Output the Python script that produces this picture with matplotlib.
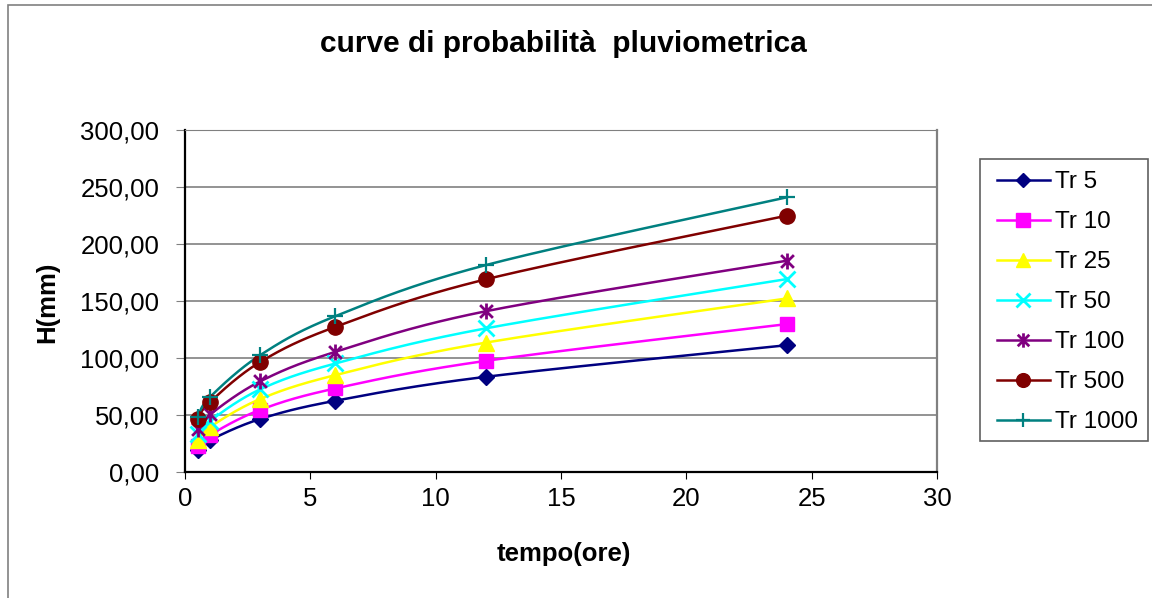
import numpy as np
import matplotlib
matplotlib.use('Agg')
import matplotlib.pyplot as plt
from matplotlib.path import Path
from matplotlib.lines import Line2D
from matplotlib.patches import Rectangle

plt.rcParams['font.family'] = ['Liberation Sans', 'DejaVu Sans']

# durations (hours) and rainfall depth H (mm) for each return period
tempo = [0.5, 1, 3, 6, 12, 24]
tr5 = [19.5, 28.0, 46.5, 62.5, 83.5, 111.2]
tr10 = [22.5, 32.5, 54.5, 73.3, 97.5, 129.7]
tr25 = [28.0, 39.5, 64.0, 85.0, 113.5, 152.2]
tr50 = [33.5, 45.0, 72.5, 95.2, 126.0, 169.2]
tr100 = [38.0, 50.5, 79.5, 105.4, 141.0, 185.3]
tr500 = [46.5, 61.5, 96.5, 127.3, 169.0, 224.8]
tr1000 = [48.5, 65.8, 102.5, 136.7, 181.5, 240.9]
labels = ['Tr 5', 'Tr 10', 'Tr 25', 'Tr 50', 'Tr 100', 'Tr 500', 'Tr 1000']

# asterisk marker: cross plus vertical bar
star = Path([(0, -1), (0, 1), (-0.8, -0.8), (0.8, 0.8), (-0.8, 0.8), (0.8, -0.8)],
            [Path.MOVETO, Path.LINETO, Path.MOVETO, Path.LINETO, Path.MOVETO, Path.LINETO])

styles = [
    dict(color='#000080', marker='D', ms=7.8),
    dict(color='#FF00FF', marker='s', ms=10.5),
    dict(color='#FFFF00', marker='^', ms=11),
    dict(color='#00FFFF', marker='x', ms=11, mew=2),
    dict(color='#800080', marker=star, ms=11.5, mew=2),
    dict(color='#800000', marker='o', ms=11),
    dict(color='#008080', marker='+', ms=11.5, mew=1.6),
]


def smooth(x, y, n=40):
    # bezier smoothing through the points (spreadsheet-style smoothed line)
    pts = np.column_stack([x, y]).astype(float)
    out = []
    t = np.linspace(0, 1, n)[:, None]
    for i in range(len(pts) - 1):
        p0 = pts[i - 1] if i > 0 else pts[i]
        p1, p2 = pts[i], pts[i + 1]
        p3 = pts[i + 2] if i + 2 < len(pts) else p2
        c1 = p1 + (p2 - p0) / 6
        c2 = p2 - (p3 - p1) / 6
        seg = (1 - t) ** 3 * p1 + 3 * (1 - t) ** 2 * t * c1 + 3 * (1 - t) * t ** 2 * c2 + t ** 3 * p2
        out.append(seg if i == 0 else seg[1:])
    s = np.vstack(out)
    return s[:, 0], s[:, 1]


W, H = 1152, 598
fig = plt.figure(figsize=(W / 100, H / 100), dpi=100)
ax = fig.add_axes([185 / W, 1 - 472 / H, 752 / W, 342 / H])

handles = []
for vals, st, lab in zip([tr5, tr10, tr25, tr50, tr100, tr500, tr1000], styles, labels):
    sx, sy = smooth(tempo, vals)
    ax.plot(sx, sy, color=st['color'], lw=1.8, zorder=3)
    ax.plot(tempo, vals, ls='none', marker=st['marker'], ms=st['ms'],
            color=st['color'], mec=st['color'], mew=st.get('mew', 1), zorder=4)
    handles.append(Line2D([], [], color=st['color'], lw=1.8, marker=st['marker'],
                          ms=st['ms'] * 0.9, mew=st.get('mew', 1), label=lab))

ax.set_xlim(0, 30)
ax.set_ylim(0, 300)
ax.set_xticks(range(0, 31, 5))
ax.set_yticks(range(0, 301, 50))
ax.set_yticklabels([f'{v:.2f}'.replace('.', ',') for v in range(0, 301, 50)])
ax.tick_params(axis='both', labelsize=18.5, direction='out')
ax.tick_params(axis='y', length=6.5, pad=12, color='#808080')
ax.tick_params(axis='x', length=5, pad=6, color='black')
ax.grid(axis='y', color='#808080', lw=1.2)
ax.set_axisbelow(True)
ax.spines['left'].set_color('black')
ax.spines['left'].set_linewidth(1.6)
ax.spines['bottom'].set_color('black')
ax.spines['bottom'].set_linewidth(1.6)
ax.spines['top'].set_color('#808080')
ax.spines['right'].set_color('#808080')
ax.spines['right'].set_linewidth(1.6)

fig.text(563 / W, 1 - 52 / H, 'curve di probabilità  pluviometrica', ha='center',
         va='baseline', fontsize=21.5, fontweight='bold')
fig.text(564 / W, 1 - 561 / H, 'tempo(ore)', ha='center', va='baseline',
         fontsize=18.5, fontweight='bold')
fig.text(47 / W, 1 - 302 / H, 'H(mm)', ha='center', va='center', rotation=90,
         fontsize=18.5, fontweight='bold')

# legend entries without frame; box drawn separately
fig.legend(handles=handles, loc='upper left',
           bbox_to_anchor=(997 / W, 1 - 171 / H), fontsize=17.5,
           frameon=False, handlelength=2.18, handletextpad=0.2,
           labelspacing=0.74, borderpad=0, borderaxespad=0)
fig.patches.append(Rectangle((980 / W, 1 - 441 / H), 168 / W, 282 / H,
                             transform=fig.transFigure, fill=False,
                             edgecolor='#606060', lw=1.2))

# outer chart frame
fig.patches.append(Rectangle((8 / W, -0.1), 1.2, 1 - 5 / H + 0.1, transform=fig.transFigure,
                             fill=False, edgecolor='#808080', lw=1.2))

fig.savefig('out.png', dpi=100)
